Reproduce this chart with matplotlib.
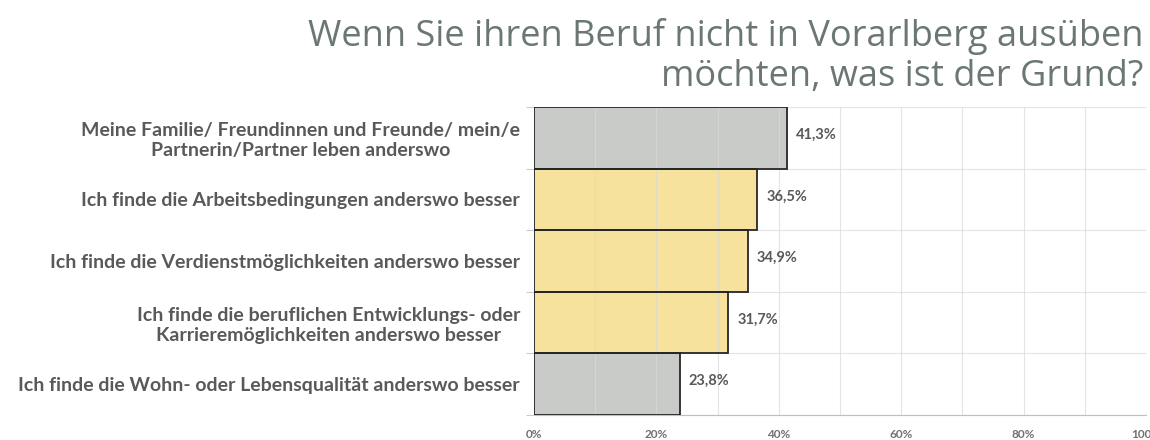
import matplotlib.pyplot as plt
import numpy as np

# Survey answers, top to bottom
labels = [
    "Meine Familie/ Freundinnen und Freunde/ mein/e\nPartnerin/Partner leben anderswo",
    "Ich finde die Arbeitsbedingungen anderswo besser",
    "Ich finde die Verdienstmöglichkeiten anderswo besser",
    "Ich finde die beruflichen Entwicklungs- oder\nKarrieremöglichkeiten anderswo besser",
    "Ich finde die Wohn- oder Lebensqualität anderswo besser",
]
values = [41.3, 36.5, 34.9, 31.7, 23.8]
highlight = [False, True, True, True, False]

GREY = "#c8cbc8"
YELLOW = "#f6e29c"
TEXT = "#595959"

fig = plt.figure(figsize=(11.5, 4.4), dpi=100)
ax = fig.add_axes([0.4643, 0.0568, 0.5322, 0.7])

y = np.arange(len(values))
colors = [YELLOW if h else GREY for h in highlight]
# fill first, grid on top of it, outlines last
ax.barh(y, values, height=1.0, color=colors, linewidth=0, zorder=1)
ax.barh(y, values, height=1.0, fill=False, edgecolor="#262626",
        linewidth=1.3, zorder=4)

for yi, v in zip(y, values):
    ax.text(v + 1.5, yi - 0.05, f"{v:.1f}%".replace(".", ","),
            va="center", ha="left", fontsize=10.5, fontweight="bold",
            color=TEXT, family="Lato")

ax.set_xlim(0, 100)
ax.set_ylim(len(values) - 0.5, -0.5)

# grid every 10% and at half-category steps
ax.set_xticks(np.arange(0, 101, 20))
ax.set_xticks(np.arange(0, 101, 10), minor=True)
ax.set_xticklabels([f"{t}%" for t in range(0, 101, 20)], fontsize=8.5,
                   fontweight="bold", color="#707070", family="Lato")
ax.set_yticks(y)
ax.set_yticklabels(labels, fontsize=14, fontweight="bold", color=TEXT,
                   family="Lato", multialignment="center", linespacing=1.2)
ax.set_yticks(np.arange(-0.5, len(values), 0.5), minor=True)

ax.set_axisbelow(False)
ax.grid(which="both", axis="x", color="#d9d9d9", linewidth=0.8, alpha=0.7, zorder=2)
ax.grid(which="minor", axis="y", color="#d9d9d9", linewidth=0.8, alpha=0.7, zorder=2)

ax.tick_params(axis="x", which="both", length=0, pad=10)
ax.tick_params(axis="y", which="major", length=0, pad=10)
ax.tick_params(axis="y", which="minor", length=6, color="#bfbfbf")

for s in ["top", "right", "left"]:
    ax.spines[s].set_visible(False)
ax.spines["bottom"].set_color("#bfbfbf")
ax.spines["bottom"].set_zorder(3)

fig.text(0.994, 0.958, "Wenn Sie ihren Beruf nicht in Vorarlberg ausüben\nmöchten, was ist der Grund?",
         ha="right", va="top", fontsize=26, color="#6b7872", family="Open Sans",
         multialignment="right", linespacing=1.12)

fig.savefig("out.png", dpi=100)
